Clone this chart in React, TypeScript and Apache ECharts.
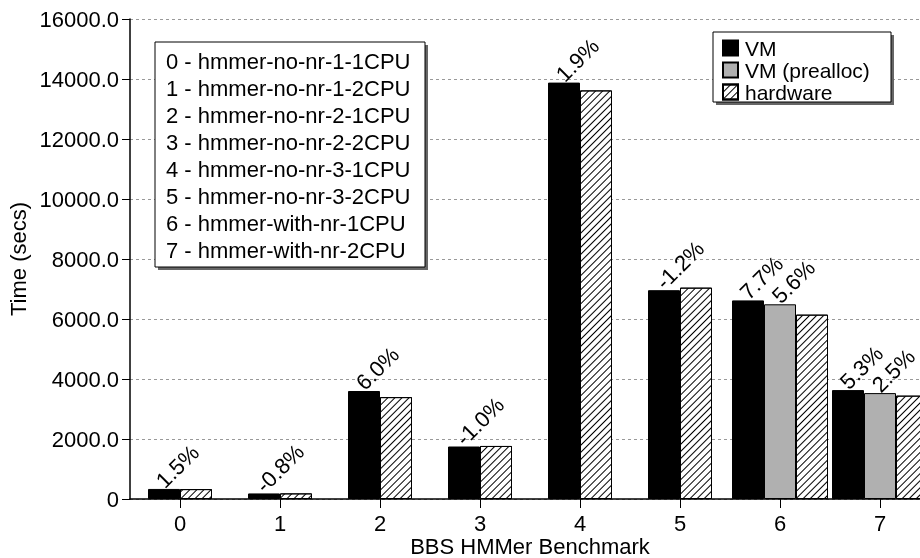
import React, { useEffect, useRef } from "react";
import * as echarts from "echarts";

const categories = ["0", "1", "2", "3", "4", "5", "6", "7"];
const benchmarkNames = [
  "0 - hmmer-no-nr-1-1CPU",
  "1 - hmmer-no-nr-1-2CPU",
  "2 - hmmer-no-nr-2-1CPU",
  "3 - hmmer-no-nr-2-2CPU",
  "4 - hmmer-no-nr-3-1CPU",
  "5 - hmmer-no-nr-3-2CPU",
  "6 - hmmer-with-nr-1CPU",
  "7 - hmmer-with-nr-2CPU",
];
const vmValues = [335, 185, 3600, 1750, 13880, 6960, 6620, 3630];
const preallocValues: (number | null)[] = [null, null, null, null, null, null, 6490, 3530];
const hardwareValues = [330, 187, 3396, 1768, 13620, 7045, 6145, 3445];
const vmLabels = ["1.5%", "-0.8%", "6.0%", "-1.0%", "1.9%", "-1.2%", "7.7%", "5.3%"];
const preallocLabels = ["", "", "", "", "", "", "5.6%", "2.5%"];
const yTicks = { min: 0, max: 16000, interval: 2000 };

const FONT = "'Liberation Sans', Arial, Helvetica, sans-serif";
const FS = 22;

export default function App() {
  const ref = useRef<HTMLDivElement>(null);
  useEffect(() => {
    if (!ref.current) return;
    const chart = echarts.init(ref.current, null, { renderer: "svg" });
    const hasPrealloc = (i: number) => preallocValues[i] != null;
    const twoVm = vmValues.map((v, i) => (hasPrealloc(i) ? null : v));
    const twoHw = hardwareValues.map((v, i) => (hasPrealloc(i) ? null : v));
    const threeVm = vmValues.map((v, i) => (hasPrealloc(i) ? v : null));
    const threeHw = hardwareValues.map((v, i) => (hasPrealloc(i) ? v : null));

    const hatch = {
      symbol: "rect",
      symbolSize: 1,
      color: "#000",
      backgroundColor: "#fff",
      dashArrayX: [1, 0],
      dashArrayY: [1, 4],
      rotation: -Math.PI / 4,
    };
    const labelCfg = (texts: string[]) => ({
      show: true,
      position: "top",
      rotate: 45,
      align: "left",
      verticalAlign: "middle",
      distance: 9,
      offset: [-6, 0],
      fontSize: FS,
      fontFamily: FONT,
      color: "#000",
      formatter: (p: any) => texts[p.dataIndex],
    });
    const vmStyle = { color: "#000", borderColor: "#000", borderWidth: 1 };
    const preStyle = { color: "#b0b0b0", borderColor: "#000", borderWidth: 1 };
    const hwStyle = { color: "#fff", borderColor: "#000", borderWidth: 1, decal: hatch };

    const option: any = {
      animation: false,
      textStyle: { fontFamily: FONT, fontSize: FS, color: "#000" },
      grid: { left: 130, top: 19, bottom: 59, width: 800, containLabel: false, outerBoundsMode: "none" },
      legend: {
        data: ["VM", "VM (prealloc)", "hardware"],
        orient: "vertical",
        left: 722,
        top: 37,
        padding: [0, 0, 0, 0],
        itemWidth: 15,
        itemHeight: 15,
        itemGap: 0,
        icon: "rect",
        textStyle: { fontSize: 21, fontFamily: FONT, color: "#000", lineHeight: 22, padding: [0, 0, 0, 2] },
      },
      xAxis: [
        {
          type: "category",
          data: categories,
          name: "BBS HMMer Benchmark",
          nameLocation: "middle",
          nameGap: 36,
          nameMoveOverlap: false,
          nameTextStyle: { fontSize: FS, fontFamily: FONT, color: "#000", lineHeight: 22 },
          axisLine: { show: true, lineStyle: { color: "#000", width: 1.5 } },
          axisTick: { show: true, alignWithLabel: true, length: 9, lineStyle: { color: "#000" } },
          axisLabel: { fontSize: FS, fontFamily: FONT, color: "#000", margin: 13, lineHeight: 22 },
          splitLine: { show: false },
        },
        {
          type: "category",
          data: categories,
          show: false,
        },
      ],
      yAxis: {
        type: "value",
        min: yTicks.min,
        max: yTicks.max,
        interval: yTicks.interval,
        name: "Time (secs)",
        nameLocation: "middle",
        nameRotate: 90,
        nameGap: 101,
        nameMoveOverlap: false,
        nameTextStyle: { fontSize: FS, fontFamily: FONT, color: "#000" },
        axisLine: { show: true, lineStyle: { color: "#000", width: 1.5 } },
        axisTick: { show: true, length: 8, lineStyle: { color: "#000" } },
        axisLabel: {
          fontSize: FS,
          fontFamily: FONT,
          color: "#000",
          margin: 11,
          formatter: (v: number) => (v === 0 ? "0" : v.toFixed(1)),
        },
        splitLine: { show: true, lineStyle: { color: "#999", type: [3, 3], width: 1 } },
      },
      series: [
        { name: "VM", type: "bar", xAxisIndex: 0, data: twoVm, barWidth: 32, barGap: "0%", itemStyle: vmStyle, label: labelCfg(vmLabels) },
        { name: "hardware", type: "bar", xAxisIndex: 0, data: twoHw, barWidth: 32, barGap: "0%", itemStyle: hwStyle },
        { name: "VM", type: "bar", xAxisIndex: 1, data: threeVm, barWidth: 32, barGap: "0%", itemStyle: vmStyle, label: labelCfg(vmLabels) },
        { name: "VM (prealloc)", type: "bar", xAxisIndex: 1, data: preallocValues, barWidth: 32, barGap: "0%", itemStyle: preStyle, label: labelCfg(preallocLabels) },
        { name: "hardware", type: "bar", xAxisIndex: 1, data: threeHw, barWidth: 32, barGap: "0%", itemStyle: hwStyle },
      ],
      graphic: [
        { type: "rect", z: 2, shape: { x: 716, y: 35, width: 178, height: 70 }, style: { fill: "#666" } },
        { type: "rect", z: 3, shape: { x: 713, y: 32, width: 178, height: 70 }, style: { fill: "#fff", stroke: "#000", lineWidth: 1 } },
        { type: "rect", z: 10, shape: { x: 158, y: 45, width: 270, height: 225 }, style: { fill: "#666" } },
        { type: "rect", z: 11, shape: { x: 155, y: 42, width: 270, height: 225 }, style: { fill: "#fff", stroke: "#000", lineWidth: 1 } },
        {
          type: "text",
          z: 12,
          x: 166,
          y: 48,
          style: {
            text: benchmarkNames.join("\n"),
            font: `${FS}px ${FONT}`,
            fontSize: FS,
            fontFamily: FONT,
            lineHeight: 27,
            fill: "#000",
            verticalAlign: "top",
            align: "left",
          },
        },
      ],
    };
    chart.setOption(option);
    return () => chart.dispose();
  }, []);
  return <div ref={ref} style={{ position: "fixed", left: 0, top: 0, width: 920, height: 558 }} />;
}
